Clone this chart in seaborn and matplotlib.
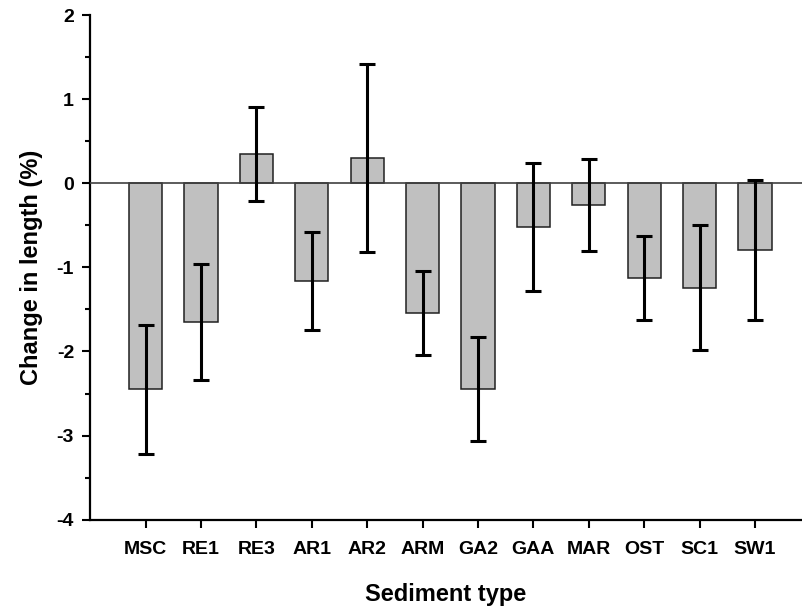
import matplotlib
matplotlib.use("Agg")
import matplotlib.pyplot as plt
from matplotlib.ticker import MultipleLocator
import seaborn as sns
import pandas as pd

sediments = ["MSC", "RE1", "RE3", "AR1", "AR2", "ARM", "GA2", "GAA", "MAR", "OST", "SC1", "SW1"]
change_pct = [-2.45, -1.65, 0.35, -1.16, 0.30, -1.54, -2.45, -0.52, -0.26, -1.13, -1.24, -0.79]
error_pct = [0.77, 0.685, 0.56, 0.585, 1.12, 0.50, 0.62, 0.76, 0.55, 0.50, 0.74, 0.83]

df = pd.DataFrame({"sediment": sediments, "change": change_pct, "err": error_pct})

sns.set_style("ticks")
plt.rcParams["font.family"] = ["Liberation Sans", "DejaVu Sans"]
plt.rcParams["font.weight"] = "bold"
plt.rcParams["axes.unicode_minus"] = False
plt.rcParams["text.color"] = "black"
plt.rcParams["axes.labelcolor"] = "black"
plt.rcParams["xtick.color"] = "black"
plt.rcParams["ytick.color"] = "black"

fig = plt.figure(figsize=(8.02, 6.10), dpi=100)
ax = fig.add_axes([90 / 802, 1 - 519.7 / 610, 712 / 802, (519.7 - 15) / 610])

sns.barplot(data=df, x="sediment", y="change", order=sediments, color="#c0c0c0",
            saturation=1, width=0.6, edgecolor="#202020", linewidth=1.1,
            errorbar=None, ax=ax, zorder=2)

ax.axhline(0, color="#404040", linewidth=1.2, zorder=3)

ax.errorbar(range(len(sediments)), df["change"], yerr=df["err"], fmt="none",
            ecolor="black", elinewidth=2.2, capsize=6, capthick=2.2, zorder=4)

ax.set_xlim(-1.005, 11.85)
ax.set_ylim(-4, 2)
ax.yaxis.set_major_locator(MultipleLocator(1))
ax.yaxis.set_minor_locator(MultipleLocator(0.5))

for side in ("top", "right"):
    ax.spines[side].set_visible(False)
for side in ("left", "bottom"):
    ax.spines[side].set_linewidth(1.6)
    ax.spines[side].set_color("black")

ax.tick_params(axis="both", which="major", direction="out", length=5.5, width=1.5,
               colors="black", labelcolor="black", labelsize=14)
ax.tick_params(axis="y", which="minor", direction="out", length=3.6, width=1.5, colors="black")
ax.tick_params(axis="x", pad=10)
ax.tick_params(axis="y", pad=6)
for lbl in ax.get_xticklabels() + ax.get_yticklabels():
    lbl.set_fontweight("bold")
    lbl.set_color("black")

ax.set_xlabel("Sediment type", fontsize=17, fontweight="bold", labelpad=18, color="black")
ax.set_ylabel("Change in length (%)", fontsize=17, fontweight="bold", labelpad=10, color="black")

fig.savefig("out.png", dpi=100)
